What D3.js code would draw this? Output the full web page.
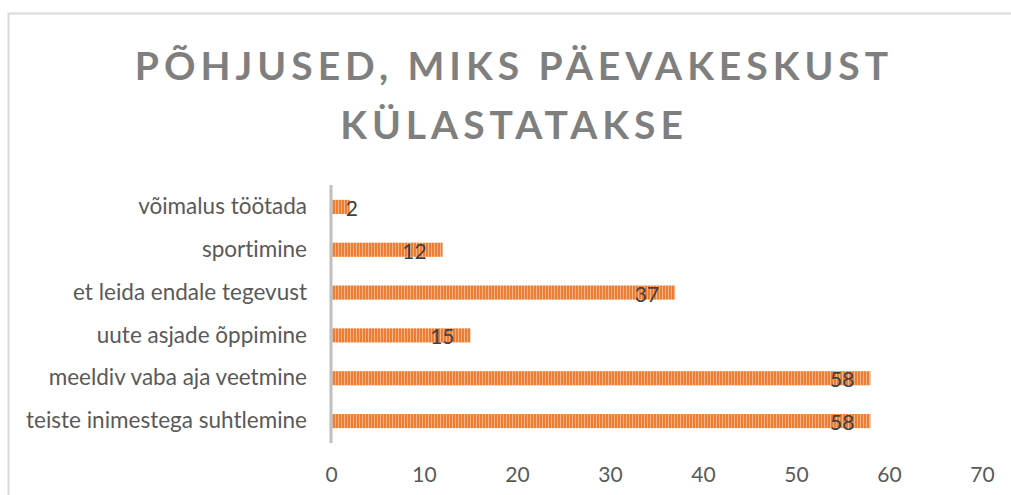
<!doctype html>
<html>
<head>
<meta charset="utf-8">
<title>Põhjused</title>
<style>
  body { margin: 0; background: #fff; }
  svg text { font-variant-ligatures: none; }
</style>
<script src="https://cdn.jsdelivr.net/npm/d3@7"></script>
</head>
<body>
<svg width="1011" height="495" font-family="Lato, sans-serif"></svg>
<script>
var categories = [
  "võimalus töötada",
  "sportimine",
  "et leida endale tegevust",
  "uute asjade õppimine",
  "meeldiv vaba aja veetmine",
  "teiste inimestega suhtlemine"
];
var values = [2, 12, 37, 15, 58, 58];
var xTicks = [0, 10, 20, 30, 40, 50, 60, 70];
var titleLines = ["PÕHJUSED, MIKS PÄEVAKESKUST", "KÜLASTATAKSE"];

var svg = d3.select("svg");

// chart frame (right/bottom edges fall outside the crop)
svg.append("path")
  .attr("d", "M8.5,495 V13.5 H1011")
  .attr("fill", "none")
  .attr("stroke", "#d9d9d9")
  .attr("stroke-width", 2);

// stripe pattern
var pat = svg.append("defs").append("pattern")
  .attr("id", "stripes")
  .attr("patternUnits", "userSpaceOnUse")
  .attr("width", 3).attr("height", 10);
pat.append("rect").attr("width", 3).attr("height", 10).attr("fill", "#ed7d31");
pat.append("rect").attr("x", 2).attr("width", 1).attr("height", 10).attr("fill", "#f6b48a");

// title
svg.append("g").selectAll("text")
  .data(titleLines)
  .join("text")
  .attr("x", 514)
  .attr("y", function(d, i) { return 80 + i * 59; })
  .attr("text-anchor", "middle")
  .attr("font-size", 39)
  .attr("font-weight", "bold")
  .attr("letter-spacing", 5)
  .attr("fill", "#7f7f7f")
  .text(function(d) { return d; });

var x = d3.scaleLinear().domain([0, 70]).range([331, 982]);
var y = d3.scaleBand().domain(categories).range([185.5, 442.5]).paddingInner(0.67).paddingOuter(0.335);

// bars
svg.append("g").selectAll("rect")
  .data(values)
  .join("rect")
  .attr("x", x(0))
  .attr("y", function(d, i) { return y(categories[i]); })
  .attr("width", function(d) { return x(d) - x(0); })
  .attr("height", y.bandwidth())
  .attr("fill", "url(#stripes)");

// axis line
svg.append("line")
  .attr("x1", x(0)).attr("x2", x(0))
  .attr("y1", 185).attr("y2", 443)
  .attr("stroke", "#bfbfbf").attr("stroke-width", 3);

// category labels
var yAxis = svg.append("g")
  .attr("transform", "translate(" + (x(0) - 24) + ",0)")
  .call(d3.axisLeft(y).tickSize(0).tickPadding(0));
yAxis.select(".domain").remove();
yAxis.selectAll(".tick text")
  .attr("font-family", "Lato, sans-serif")
  .attr("font-size", 22.5)
  .attr("fill", "#595959")
  .attr("dy", "0.32em");

// x tick labels
var xAxis = svg.append("g")
  .attr("transform", "translate(0,467)")
  .call(d3.axisBottom(x).tickValues(xTicks).tickSize(0).tickPadding(0));
xAxis.select(".domain").remove();
xAxis.selectAll(".tick text")
  .attr("font-family", "Lato, sans-serif")
  .attr("font-size", 21)
  .attr("fill", "#595959");

// value labels
svg.append("g").selectAll("text")
  .data(values)
  .join("text")
  .attr("x", function(d) { return Math.max(x(d) - 16, x(0) + 27); })
  .attr("y", function(d, i) { return y(categories[i]) + y.bandwidth() / 2 + 9; })
  .attr("text-anchor", "end")
  .attr("font-size", 21)
  .attr("fill", "#404040")
  .text(function(d) { return d; });
</script>
</body>
</html>
